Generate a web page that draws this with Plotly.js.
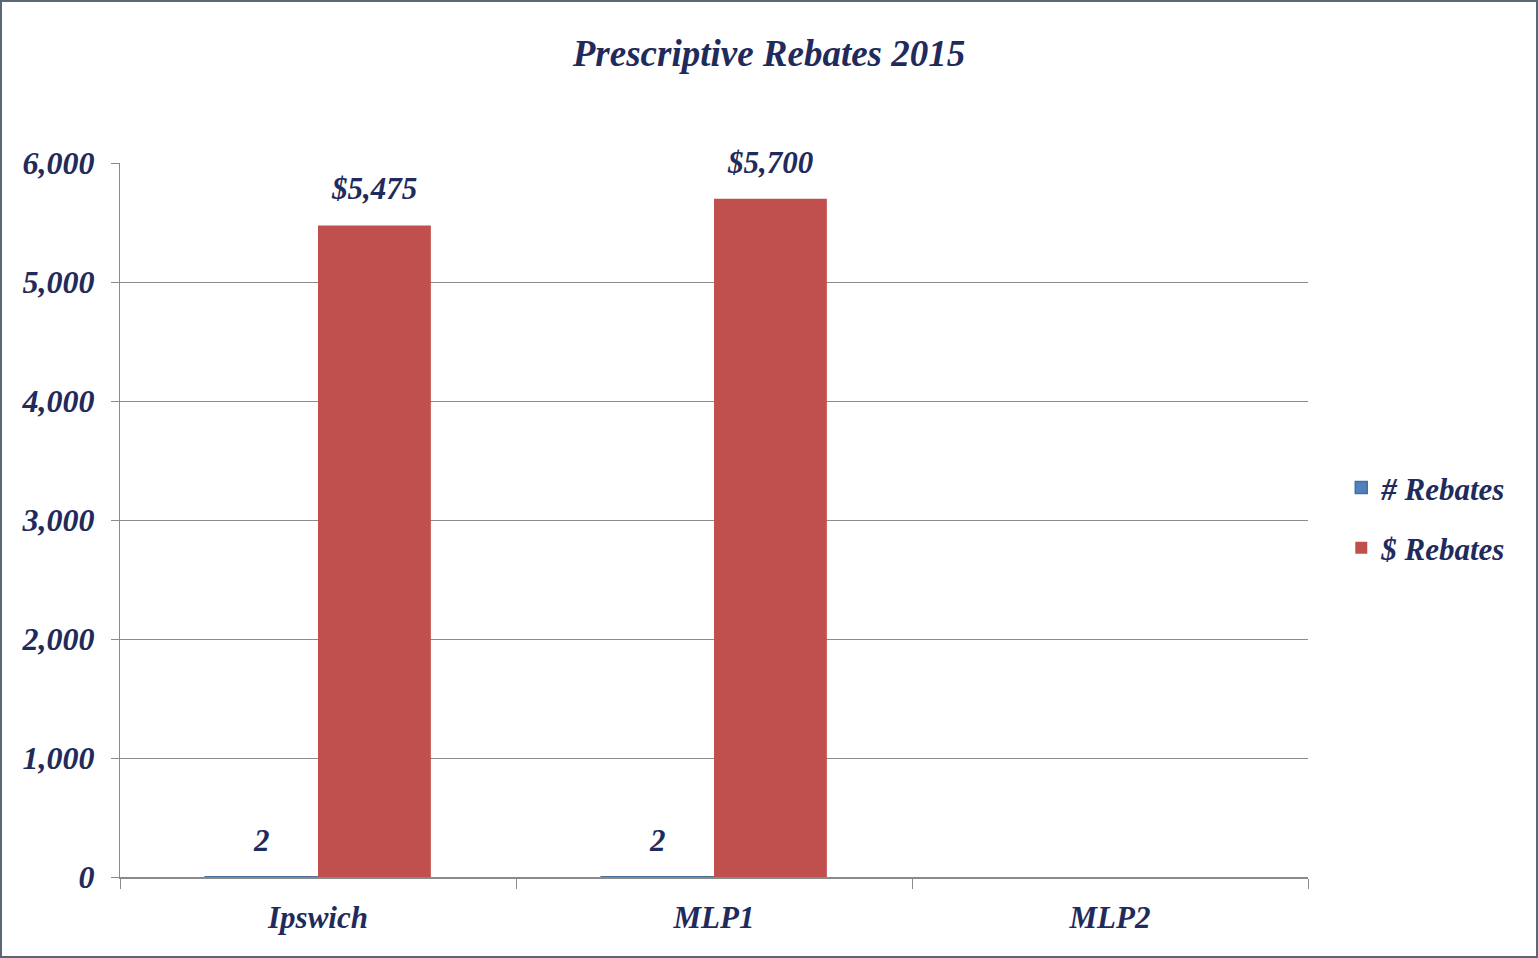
<!DOCTYPE html>
<html>
<head>
<meta charset="utf-8">
<script src="https://cdn.plot.ly/plotly-3.0.1.min.js"></script>
<style>
  html, body { margin: 0; padding: 0; background: #ffffff; }
  #wrap { position: relative; width: 1538px; height: 958px; }
  #chart { width: 1538px; height: 958px; }
  #frame { position: absolute; left: 0; top: 0; width: 1538px; height: 958px; box-sizing: border-box; border: 2px solid #5d6676; pointer-events: none; }
</style>
</head>
<body>
<div id="wrap"><div id="chart"></div><div id="frame"></div></div>
<script>
// ---- data ----
const categories = ["Ipswich", "MLP1", "MLP2"];
const countRebates = [2, 2, null];
const dollarRebates = [5475, 5700, null];
const seriesNames = ["# Rebates", "$ Rebates"];
const countLabels = ["2", "2", ""];
const dollarLabels = ["$5,475", "$5,700", ""];
const yTickVals = [0, 1000, 2000, 3000, 4000, 5000, 6000];
const yTickText = ["0", "1,000", "2,000", "3,000", "4,000", "5,000", "6,000"];

// ---- style ----
const W = 1538, H = 958;
const M = { l: 120, r: 230, t: 163, b: 81 };
const bargap = 0.43;
const navy = "#1f2b5c";
const fontFamily = "'Liberation Serif', 'Times New Roman', serif";
const font = (size) => ({ family: fontFamily, size: size, color: navy, style: "italic", weight: "bold" });

const plotW = W - M.l - M.r;
const barPx = plotW / categories.length * (1 - bargap) / 2;

const traces = [
  { type: "bar", name: seriesNames[0], x: categories, y: countRebates,
    marker: { color: "#4f81bd", line: { color: "#4a6f9a", width: 1.5 } }, legendgroup: "a", hoverinfo: "x+y" },
  { type: "bar", name: seriesNames[1], x: categories, y: dollarRebates,
    marker: { color: "#c0504d", line: { width: 0 } }, legendgroup: "b", hoverinfo: "x+y" }
];

const annotations = [];
[[countRebates, countLabels, -1], [dollarRebates, dollarLabels, 1]].forEach(([vals, labs, side]) => {
  vals.forEach((v, i) => {
    if (v === null) return;
    annotations.push({
      x: categories[i], y: v, xref: "x", yref: "y",
      text: labs[i], showarrow: false,
      xanchor: "center", yanchor: "bottom",
      xshift: side * barPx / 2, yshift: 17,
      font: font(31)
    });
  });
});

const layout = {
  width: W, height: H,
  margin: M,
  paper_bgcolor: "#ffffff", plot_bgcolor: "#ffffff",
  title: { text: "Prescriptive Rebates 2015", font: font(37),
           x: 0.5, xref: "container", xanchor: "center", y: 1 - 53 / H, yref: "container", yanchor: "middle" },
  barmode: "group", bargap: bargap, bargroupgap: 0,
  showlegend: true,
  legend: { x: 1.028, xanchor: "left", y: 0.503, yanchor: "middle",
            font: font(31), traceorder: "grouped", tracegroupgap: 17,
            bgcolor: "rgba(0,0,0,0)", itemwidth: 30 },
  xaxis: { type: "category", showline: true, linecolor: "#8a8a8a", linewidth: 2,
           ticks: "outside", tickson: "boundaries", ticklen: 10, tickcolor: "#8a8a8a", tickwidth: 1,
           tickfont: font(31), showgrid: false, zeroline: false, ticklabelstandoff: 12,
           fixedrange: true },
  yaxis: { range: [0, 6000], tickvals: yTickVals, ticktext: yTickText,
           showgrid: true, gridcolor: "#8c8c8c", gridwidth: 1,
           showline: true, linecolor: "#8a8a8a", linewidth: 1,
           ticks: "outside", ticklen: 8, tickcolor: "#8a8a8a",
           tickfont: font(32), zeroline: false, ticklabelstandoff: 10,
           fixedrange: true },
  annotations: annotations
};

Plotly.newPlot("chart", traces, layout, { displayModeBar: false, staticPlot: true });
</script>
</body>
</html>
